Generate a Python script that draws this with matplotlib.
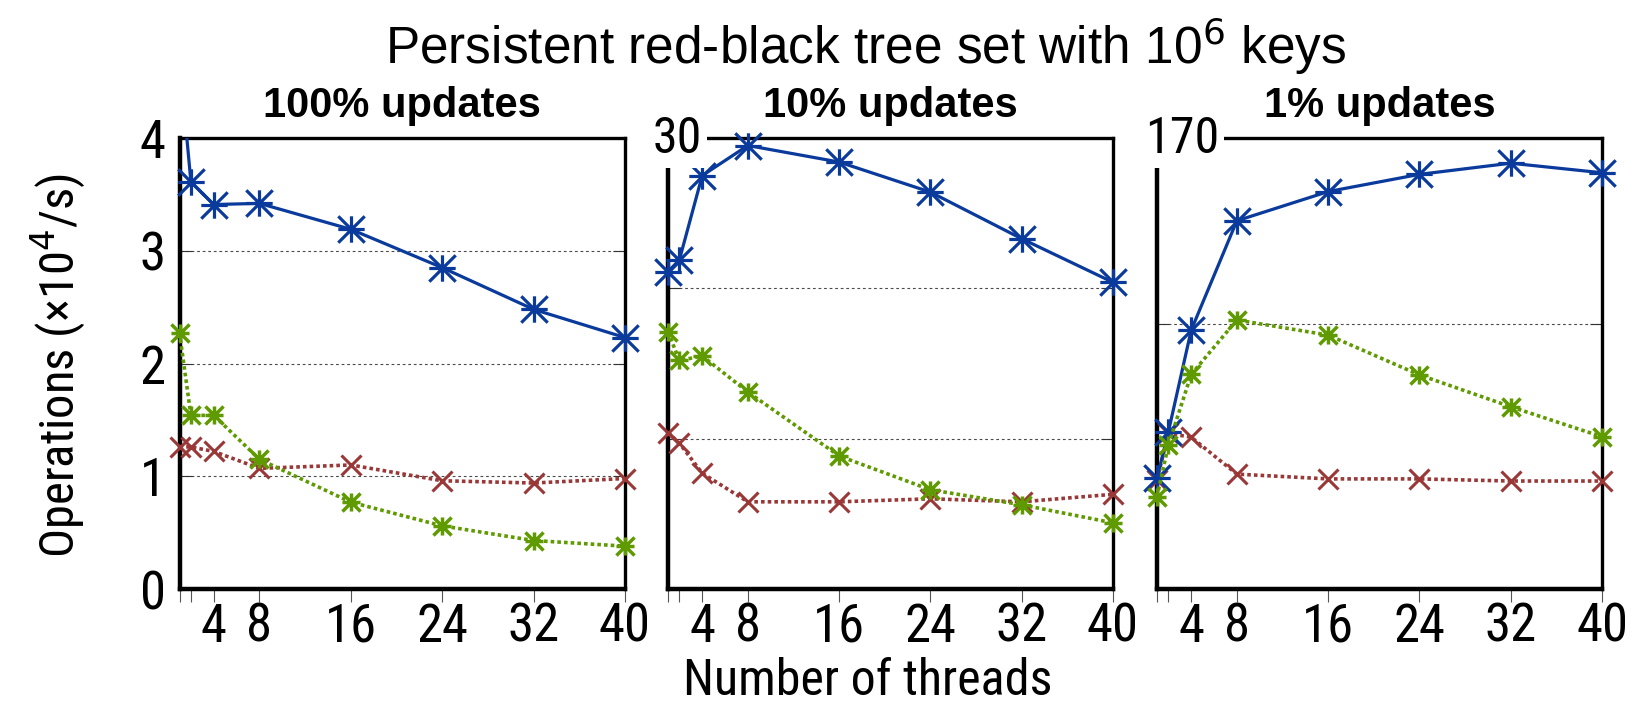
import os
import matplotlib
matplotlib.use("Agg")
import matplotlib.pyplot as plt
import matplotlib.transforms as mtransforms
from matplotlib import font_manager as fm
from matplotlib.path import Path
from matplotlib.patches import Rectangle

# ---- data -------------------------------------------------------------
threads = [1, 2, 4, 8, 16, 24, 32, 40]
xtick_labels = ['', '', '4', '8', '16', '24', '32', '40']

panel_titles = ['100% updates', '10% updates', '1% updates']
y_limits = [4, 30, 170]
y_ticks = [[0, 1, 2, 3, 4], [0, 10, 20, 30], [0, 100, 170]]

# 100% updates
upd100_blue = [4.70, 3.61, 3.41, 3.42, 3.19, 2.85, 2.48, 2.23]
upd100_green = [2.27, 1.54, 1.54, 1.15, 0.77, 0.56, 0.43, 0.38]
upd100_red = [1.26, 1.26, 1.22, 1.07, 1.10, 0.96, 0.94, 0.98]

# 10% updates
upd10_blue = [21.1, 21.9, 27.5, 29.5, 28.4, 26.4, 23.3, 20.4]
upd10_green = [17.1, 15.2, 15.5, 13.1, 8.85, 6.6, 5.6, 4.4]
upd10_red = [10.4, 9.7, 7.7, 5.8, 5.8, 6.0, 5.8, 6.3]

# 1% updates
upd1_blue = [41.7, 59.3, 97.6, 138.8, 149.8, 156.3, 160.5, 156.9]
upd1_green = [34.8, 54.3, 80.9, 101.4, 95.7, 80.7, 68.7, 57.4]
upd1_red = [41.1, 58.7, 57.2, 43.3, 41.5, 41.5, 40.7, 40.7]

panels = [
    (upd100_blue, upd100_green, upd100_red),
    (upd10_blue, upd10_green, upd10_red),
    (upd1_blue, upd1_green, upd1_red),
]

# ---- fonts ------------------------------------------------------------
plt.rcParams['font.family'] = ['Liberation Sans', 'DejaVu Sans']


def find_narrow_font():
    """Return (FontProperties, family name) of a narrow sans face, if any."""
    prefixes = ['liberationsansnarrow-regular', 'arialnarrow.', 'arialn.',
                'nimbussansnarrow-regular', 'nimbussansnarrow-reg',
                'robotocondensed-regular', 'robotocondensed[',
                'notosans-condensed.', 'notosans-semicondensed.',
                'dejavusanscondensed.']
    entries = fm.fontManager.ttflist
    for pre in prefixes:
        for e in entries:
            base = os.path.basename(e.fname).lower().replace('_', '').replace(' ', '')
            if base.startswith(pre) and 'italic' not in base and 'oblique' not in base:
                return fm.FontProperties(fname=e.fname), e.name
    return None, None


narrow_fp, narrow_name = find_narrow_font()
if narrow_fp is None:
    narrow_fp = fm.FontProperties(family='Liberation Sans')
    narrow_name = 'Liberation Sans'
    size_k = 0.87
else:
    size_k = 1.0

plt.rcParams['mathtext.fontset'] = 'custom'
plt.rcParams['mathtext.rm'] = narrow_name
plt.rcParams['mathtext.it'] = narrow_name + ':italic'
plt.rcParams['mathtext.bf'] = narrow_name + ':bold'


def nfp(size):
    fp = narrow_fp.copy()
    fp.set_size(size * size_k)
    return fp


# ---- styles -----------------------------------------------------------
BLUE = '#0a3a9c'
GREEN = '#5f9a00'
RED = '#9a3838'

star = Path([(-1, 0), (1, 0), (0, -1), (0, 1), (-1, -1), (1, 1), (-1, 1), (1, -1)],
            [Path.MOVETO, Path.LINETO] * 4)

series_style = [
    # colour, linestyle, linewidth, marker, markersize, markeredgewidth, zorder
    (BLUE, '-', 2.3, star, 19, 2.3, 5),
    (GREEN, (0, (1.0, 0.85)), 2.6, star, 13, 2.5, 6),
    (RED, (0, (1.0, 0.85)), 2.6, 'x', 15, 2.2, 4),
]

W, H = 1639, 707
fig = plt.figure(figsize=(W / 100, H / 100), dpi=100)

ax_px = [(179.5, 445.5), (668, 445), (1157, 445)]
top_px, bot_px = 138, 589
label_dx = [0, -15, -12]

for i, (left, width) in enumerate(ax_px):
    ax = fig.add_axes([left / W, 1 - bot_px / H, width / W, (bot_px - top_px) / H])
    ymax = y_limits[i]
    ax.set_xlim(1, 40)
    ax.set_ylim(0, ymax)

    # horizontal grid at interior ticks
    for yv in y_ticks[i]:
        if 0 < yv < ymax:
            ax.axhline(yv, color='#4a4a4a', lw=0.8, ls=(0, (2.5, 2.5)), zorder=1)

    clip = Rectangle((-0.05, 0), 1.1, 1, transform=ax.transAxes)
    for vals, (col, ls, lw, mk, ms, mew, zo) in zip(panels[i], series_style):
        line, = ax.plot(threads, vals, color=col, ls=ls, lw=lw, zorder=zo)
        line.set_clip_path(clip)
        xs = [t for t, v in zip(threads, vals) if v <= ymax]
        ys = [v for v in vals if v <= ymax]
        ax.plot(xs, ys, ls='none', marker=mk, ms=ms, mew=mew, mec=col, mfc=col,
                zorder=zo + 0.5, clip_on=False)

    # spines
    for s in ('left', 'bottom'):
        ax.spines[s].set_linewidth(3.2)
    for s in ('top', 'right'):
        ax.spines[s].set_linewidth(2.4)

    # x ticks
    ax.set_xticks(threads)
    ax.set_xticklabels(xtick_labels)
    ax.tick_params(axis='x', direction='out', length=9, width=0.8, color='#555555', pad=0)
    for lab in ax.get_xticklabels():
        lab.set_fontproperties(nfp(38))

    # y ticks
    ax.set_yticks(y_ticks[i])
    ax.tick_params(axis='y', direction='in', length=8.6, width=0.8, color='#333333',
                   left=True, right=True, pad=10)
    if i == 0:
        ax.set_yticklabels([str(v) for v in y_ticks[i]])
        for lab in ax.get_yticklabels():
            lab.set_fontproperties(nfp(38))
    else:
        ax.set_yticklabels([])
        tr = mtransforms.offset_copy(ax.transAxes, fig=fig, x=label_dx[i], y=-15, units='dots')
        ax.text(0, 1, str(ymax), transform=tr, ha='left', va='baseline',
                fontproperties=nfp(36), zorder=10,
                bbox=dict(boxstyle='square,pad=0.1', fc='white', ec='none'))

    # panel title
    ax.text(0.5, (bot_px - 117) / (bot_px - top_px), panel_titles[i],
            transform=ax.transAxes, ha='center', va='baseline', fontsize=30,
            fontweight='bold', family=['Liberation Sans', 'DejaVu Sans'])

fig.text(866 / W, 1 - 64 / H, 'Persistent red-black tree set with 10$^{6}$ keys',
         ha='center', va='baseline', fontsize=37,
         family=['Liberation Sans', 'DejaVu Sans'], math_fontfamily='dejavusans')
fig.text(868 / W, 1 - 695 / H, 'Number of threads', ha='center', va='baseline',
         fontproperties=nfp(36))
fig.text(58 / W, 1 - 365 / H, 'Operations (\u00d710$^{4}$/s)', rotation=90,
         ha='center', va='center', fontproperties=nfp(35))

fig.savefig('out.png', dpi=100)
